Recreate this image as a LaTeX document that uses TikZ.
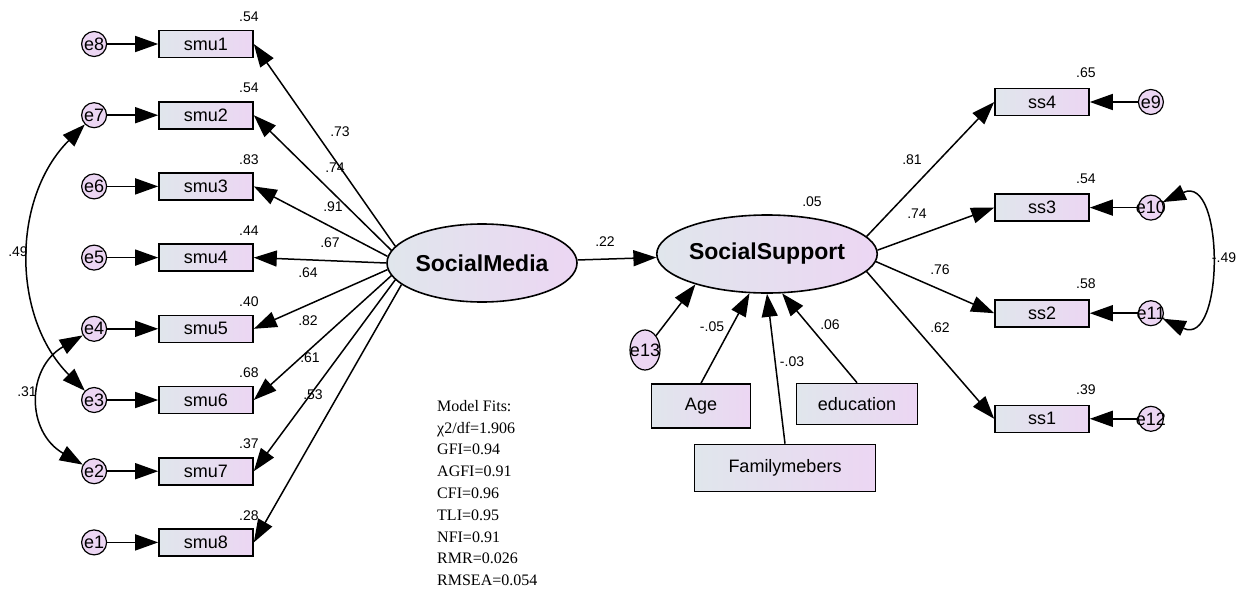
\documentclass[tikz,border=0pt]{standalone}
\usepackage{fontspec}
\setmainfont{Liberation Sans}
\newfontfamily\fitfont{Liberation Serif}
\usetikzlibrary{positioning, shapes.geometric, arrows.meta}
\definecolor{shadeleft}{RGB}{224,230,236}
\definecolor{shaderight}{RGB}{236,214,243}
\newcommand{\errlbl}[1]{\makebox[0pt]{#1}}

\begin{document}
\begin{tikzpicture}[x=1pt,y=1pt]

\tikzstyle{arrow} = [draw,line width=1.5pt,-{Triangle[length=23pt,width=16pt]}]
\tikzstyle{covar} = [draw,line width=1.5pt,{Triangle[length=23pt,width=16pt]}-{Triangle[length=23pt,width=16pt]}]
\tikzset{obs/.style = {rectangle, draw, line width=1.6pt, left color=shadeleft, right color=shaderight, minimum width=94pt, minimum height=27pt, inner sep=0pt, font=\fontsize{18}{20}\selectfont}, }
\tikzset{latent/.style = {ellipse, draw, line width=1.6pt, left color=shadeleft, right color=shaderight, minimum width=190pt, minimum height=78pt, inner sep=0pt, font=\fontsize{23}{26}\selectfont\bfseries}, }
\tikzset{err/.style = {circle, draw, line width=1.2pt, fill=shaderight, minimum size=25pt, inner sep=0pt, font=\fontsize{18}{20}\selectfont}, }
\tikzset{num/.style = {inner sep=0pt, font=\fontsize{14}{16}\selectfont} }
\tikzset{fits/.style = {inner sep=0pt, align=left, font=\fitfont\fontsize{16}{21.8}\selectfont} }

\useasboundingbox (0,0) rectangle (1244,-594);

% social media indicators
\node[obs] (smu1) at (206,-44) {smu1};
\node[obs, below=42.6pt of smu1] (smu2) {smu2};
\node[obs, below=42.6pt of smu2] (smu3) {smu3};
\node[obs, below=42.6pt of smu3] (smu4) {smu4};
\node[obs, below=42.6pt of smu4] (smu5) {smu5};
\node[obs, below=42.6pt of smu5] (smu6) {smu6};
\node[obs, below=42.6pt of smu6] (smu7) {smu7};
\node[obs, below=42.6pt of smu7] (smu8) {smu8};

\node[err, left=51pt of smu1] (e8) {\errlbl{e8}};
\node[err, left=51pt of smu2] (e7) {\errlbl{e7}};
\node[err, left=51pt of smu3] (e6) {\errlbl{e6}};
\node[err, left=51pt of smu4] (e5) {\errlbl{e5}};
\node[err, left=51pt of smu5] (e4) {\errlbl{e4}};
\node[err, left=51pt of smu6] (e3) {\errlbl{e3}};
\node[err, left=51pt of smu7] (e2) {\errlbl{e2}};
\node[err, left=51pt of smu8] (e1) {\errlbl{e1}};

% latent variables
\node[latent] (SM) at (482,-263) {SocialMedia};
\node[latent] (SS) at (767,-254) {SocialSupport};

% social support indicators
\node[obs] (ss4) at (1042,-102) {ss4};
\node[obs, below=77pt of ss4] (ss3) {ss3};
\node[obs, below=77pt of ss3] (ss2) {ss2};
\node[obs, below=77pt of ss2] (ss1) {ss1};

\node[err, right=48pt of ss4] (e9) {\errlbl{e9}};
\node[err, right=48pt of ss3] (e10) {\errlbl{e10}};
\node[err, right=48pt of ss2] (e11) {\errlbl{e11}};
\node[err, right=48pt of ss1] (e12) {\errlbl{e12}};

% controls
\node[err, ellipse, minimum width=30pt, minimum height=40pt] (e13) at (645,-350) {\errlbl{e13}};
\node[obs, minimum width=99pt, minimum height=44pt] (Age) at (701,-406) {Age};
\node[obs, minimum width=181pt, minimum height=47pt] (FM) at (785,-468) {Familymebers};
\node[obs, minimum width=121pt, minimum height=41pt] (edu) at (857,-404) {education};

\path
(e8) edge[arrow] (smu1)
(e7) edge[arrow] (smu2)
(e6) edge[arrow] (smu3)
(e5) edge[arrow] (smu4)
(e4) edge[arrow] (smu5)
(e3) edge[arrow] (smu6)
(e2) edge[arrow] (smu7)
(e1) edge[arrow] (smu8);

\path
(SM.169) edge[arrow] (smu1.east)
(SM.172) edge[arrow] (smu2.east)
(SM.176) edge[arrow] (smu3.east)
(SM.180) edge[arrow] (smu4.east)
(SM.184) edge[arrow] (smu5.east)
(SM.188) edge[arrow] (smu6.east)
(SM.191) edge[arrow] (smu7.east)
(SM.195) edge[arrow] (smu8.east);

\path
(SS.10) edge[arrow] (ss4.west)
(SS.2) edge[arrow] (ss3.west)
(SS.356) edge[arrow] (ss2.west)
(SS.350) edge[arrow] (ss1.west)
(e9) edge[arrow] (ss4)
(e10) edge[arrow] (ss3)
(e11) edge[arrow] (ss2)
(e12) edge[arrow] (ss1);

\path
(SM) edge[arrow] (SS)
(e13) edge[arrow] (SS.203)
(Age.north) edge[arrow] (SS.246)
(FM.north) edge[arrow] (SS.270)
(edu.north) edge[arrow] (SS.291);

\draw[covar] (e7) to[out=225,in=135] (e3);
\draw[covar] (e4) to[out=210,in=150,looseness=1.3] (e2);
\draw[covar] (e10) to[out=25,in=-25,looseness=1.5] (e11);

% variances
\node[num, anchor=base east] (v1) at ([shift={(5,8)}]smu1.north east) {.54};
\node[num, anchor=base east] (v2) at ([shift={(5,8)}]smu2.north east) {.54};
\node[num, anchor=base east] (v3) at ([shift={(5,8)}]smu3.north east) {.83};
\node[num, anchor=base east] (v4) at ([shift={(5,8)}]smu4.north east) {.44};
\node[num, anchor=base east] (v5) at ([shift={(5,8)}]smu5.north east) {.40};
\node[num, anchor=base east] (v6) at ([shift={(5,8)}]smu6.north east) {.68};
\node[num, anchor=base east] (v7) at ([shift={(5,8)}]smu7.north east) {.37};
\node[num, anchor=base east] (v8) at ([shift={(5,8)}]smu8.north east) {.28};
\node[num, anchor=base east] (w4) at ([shift={(6,10)}]ss4.north east) {.65};
\node[num, anchor=base east] (w3) at ([shift={(6,10)}]ss3.north east) {.54};
\node[num, anchor=base east] (w2) at ([shift={(6,10)}]ss2.north east) {.58};
\node[num, anchor=base east] (w1) at ([shift={(6,10)}]ss1.north east) {.39};
\node[num] (vSS) at (812,-202) {.05};

% loadings
\node[num] (l1) at (340,-132) {.73};
\node[num] (l2) at (335,-168) {.74};
\node[num] (l3) at (333,-207) {.91};
\node[num] (l4) at (330,-243) {.67};
\node[num] (l5) at (308,-273) {.64};
\node[num] (l6) at (308,-321) {.82};
\node[num] (l7) at (310,-358) {.61};
\node[num] (l8) at (313,-395) {.53};
\node[num] (k4) at (912,-160) {.81};
\node[num] (k3) at (917,-214) {.74};
\node[num] (k2) at (940,-270) {.76};
\node[num] (k1) at (940,-328) {.62};
\node[num] (b1) at (605,-242) {.22};
\node[num] (b2) at (712,-327) {-.05};
\node[num] (b3) at (792,-362) {-.03};
\node[num] (b4) at (830,-325) {.06};
\node[num] (c1) at (18,-252) {.49};
\node[num] (c2) at (27,-392) {.31};
\node[num] (c3) at (1224,-258) {-.49};

\node[fits, anchor=north west] (fits) at (437,-400) {Model Fits:\\ χ2/df=1.906\\ GFI=0.94\\ AGFI=0.91\\ CFI=0.96\\ TLI=0.95\\ NFI=0.91\\ RMR=0.026\\ RMSEA=0.054};
\end{tikzpicture}
\end{document}
